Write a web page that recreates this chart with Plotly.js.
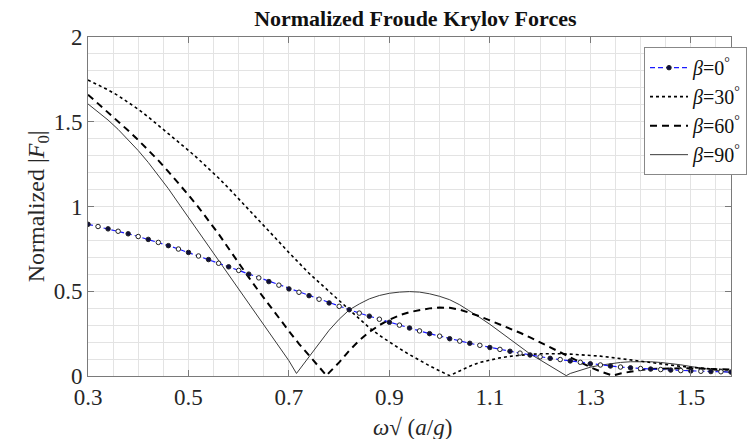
<!DOCTYPE html>
<html>
<head>
<meta charset="utf-8">
<script src="https://cdn.plot.ly/plotly-3.0.1.min.js"></script>
<style>html,body{margin:0;padding:0;background:#fff;}#chart{width:747px;height:439px;}</style>
</head>
<body>
<div id="chart"></div>
<script>
// beta = 0 deg
const x0 = [0.30,0.32,0.34,0.36,0.38,0.40,0.42,0.44,0.46,0.48,0.50,0.52,0.54,0.56,0.58,0.60,0.62,0.64,0.66,0.68,0.70,0.72,0.74,0.76,0.78,0.80,0.82,0.84,0.86,0.88,0.90,0.92,0.94,0.96,0.98,1.00,1.02,1.04,1.06,1.08,1.10,1.12,1.14,1.16,1.18,1.20,1.22,1.24,1.26,1.28,1.30,1.32,1.34,1.36,1.38,1.40,1.42,1.44,1.46,1.48,1.50,1.52,1.54,1.56,1.58];
const y0 = [0.895,0.882,0.868,0.854,0.839,0.823,0.806,0.788,0.769,0.749,0.729,0.708,0.687,0.665,0.644,0.623,0.601,0.579,0.557,0.536,0.514,0.494,0.474,0.453,0.431,0.411,0.391,0.371,0.353,0.335,0.317,0.300,0.283,0.266,0.250,0.235,0.220,0.206,0.193,0.181,0.168,0.157,0.146,0.135,0.124,0.113,0.104,0.097,0.089,0.081,0.072,0.065,0.059,0.053,0.048,0.044,0.041,0.038,0.035,0.032,0.030,0.028,0.026,0.025,0.023];

// beta = 30 deg
const x30 = [0.30,0.32,0.34,0.36,0.38,0.40,0.42,0.44,0.46,0.48,0.50,0.52,0.54,0.56,0.58,0.60,0.62,0.64,0.66,0.68,0.70,0.72,0.74,0.76,0.78,0.80,0.82,0.84,0.86,0.88,0.90,0.92,0.94,0.96,0.98,1.00,1.02,1.04,1.06,1.08,1.10,1.12,1.14,1.16,1.18,1.20,1.22,1.24,1.26,1.28,1.30,1.32,1.34,1.36,1.38,1.40,1.42,1.44,1.46,1.48,1.50,1.52,1.54,1.56,1.58];
const y30 = [1.746,1.718,1.688,1.654,1.616,1.574,1.528,1.480,1.432,1.382,1.331,1.279,1.225,1.168,1.108,1.046,0.984,0.921,0.857,0.792,0.728,0.666,0.606,0.552,0.498,0.444,0.388,0.334,0.285,0.240,0.200,0.162,0.126,0.092,0.060,0.030,0.002,0.030,0.058,0.080,0.095,0.107,0.116,0.123,0.128,0.131,0.132,0.131,0.129,0.126,0.122,0.117,0.110,0.102,0.094,0.086,0.078,0.070,0.063,0.057,0.051,0.046,0.042,0.038,0.034];

// beta = 60 deg
const x60 = [0.30,0.32,0.34,0.36,0.38,0.40,0.42,0.44,0.46,0.48,0.50,0.52,0.54,0.56,0.58,0.60,0.62,0.64,0.66,0.68,0.70,0.72,0.74,0.76,0.775,0.78,0.80,0.82,0.84,0.86,0.88,0.90,0.92,0.94,0.96,0.98,1.00,1.02,1.04,1.06,1.08,1.10,1.12,1.14,1.16,1.18,1.20,1.22,1.24,1.26,1.28,1.30,1.32,1.345,1.36,1.38,1.40,1.42,1.44,1.46,1.48,1.50,1.52,1.54,1.56,1.58];
const y60 = [1.660,1.608,1.555,1.500,1.448,1.392,1.334,1.272,1.206,1.138,1.068,0.995,0.920,0.838,0.752,0.665,0.582,0.500,0.420,0.342,0.265,0.190,0.120,0.050,0.002,0.020,0.080,0.150,0.210,0.260,0.300,0.332,0.358,0.377,0.390,0.399,0.404,0.402,0.392,0.374,0.352,0.328,0.305,0.280,0.255,0.228,0.200,0.170,0.140,0.110,0.080,0.052,0.027,0.002,0.015,0.027,0.036,0.041,0.044,0.046,0.046,0.045,0.044,0.042,0.040,0.038];

// beta = 90 deg
const x90 = [0.30,0.32,0.34,0.36,0.38,0.40,0.42,0.44,0.46,0.48,0.50,0.52,0.54,0.56,0.58,0.60,0.62,0.64,0.66,0.68,0.70,0.715,0.72,0.74,0.76,0.78,0.80,0.82,0.84,0.86,0.88,0.90,0.92,0.94,0.96,0.98,1.00,1.02,1.04,1.06,1.08,1.10,1.12,1.14,1.16,1.18,1.20,1.22,1.24,1.252,1.26,1.28,1.30,1.32,1.34,1.36,1.38,1.40,1.42,1.44,1.46,1.48,1.50,1.52,1.54,1.56,1.58];
const y90 = [1.605,1.560,1.510,1.455,1.395,1.330,1.260,1.185,1.105,1.020,0.935,0.850,0.765,0.680,0.595,0.510,0.425,0.340,0.255,0.170,0.090,0.015,0.035,0.115,0.195,0.270,0.335,0.390,0.425,0.455,0.475,0.488,0.495,0.498,0.495,0.485,0.470,0.450,0.420,0.385,0.345,0.305,0.262,0.218,0.174,0.130,0.095,0.060,0.025,0.002,0.015,0.035,0.052,0.064,0.074,0.080,0.084,0.085,0.084,0.080,0.074,0.066,0.056,0.046,0.036,0.027,0.020];

const legendNames = ['<i>β</i>=0<sup>°</sup>','<i>β</i>=30<sup>°</sup>','<i>β</i>=60<sup>°</sup>','<i>β</i>=90<sup>°</sup>'];
const chartTitle = '<b>Normalized Froude Krylov Forces</b>';
const xTitle = '<i>ω</i>√ (<i>a</i>/<i>g</i>)';
const yTitle = 'Normalized |<i>F</i><sub>0</sub>|';

const serif = 'Liberation Serif, Times New Roman, serif';
const mColors = x0.map((v,i)=> i%2===0 ? '#0d0d3d' : '#ffffff');

const traces = [
  {x:x90, y:y90, name:legendNames[3], legendrank:4, mode:'lines', line:{color:'#3a3a3a', width:1}},
  {x:x60, y:y60, name:legendNames[2], legendrank:3, mode:'lines', line:{color:'#000000', width:2, dash:'7px,5px'}},
  {x:x30, y:y30, name:legendNames[1], legendrank:2, mode:'lines', line:{color:'#000000', width:1.6, dash:'dot'}},
  {x:x0, y:y0, name:legendNames[0], legendrank:1, mode:'lines+markers',
   line:{color:'#1a1aff', width:1.2, dash:'5px,3px'},
   marker:{symbol:'circle', size:4.5, color:mColors, line:{color:'#222222', width:1}}}
];

const axisCommon = {
  showline:true, linecolor:'#7a7a7a', linewidth:1, mirror:'ticks',
  ticks:'inside', ticklen:6, tickcolor:'#7a7a7a',
  gridcolor:'#e3e3e3', gridwidth:1, zeroline:false,
  tickfont:{family:serif, size:23, color:'#262626'}
};

const layout = {
  width:747, height:439,
  margin:{l:88, r:0, t:37, b:63},
  paper_bgcolor:'#ffffff', plot_bgcolor:'#ffffff',
  title:{text:chartTitle, font:{family:serif, size:22, color:'#111'}, x:0.556, xanchor:'center', y:0.958, yanchor:'middle'},
  xaxis:Object.assign({}, axisCommon, {
    range:[0.3,1.58], tick0:0.3, dtick:0.2, tickformat:'.1f',
    minor:{dtick:0.05, tick0:0.3, showgrid:true, gridcolor:'#e3e3e3', ticks:''}
  }),
  yaxis:Object.assign({}, axisCommon, {
    range:[0,2], tick0:0, dtick:0.5,
    minor:{dtick:0.1, showgrid:true, gridcolor:'#e3e3e3', ticks:''}
  }),
  annotations:[
    {text:xTitle, xref:'paper', yref:'paper', x:0.505, y:-0.153, xanchor:'center', yanchor:'middle', showarrow:false,
     font:{family:serif, size:23, color:'#262626'}},
    {text:yTitle, xref:'paper', yref:'paper', x:-0.078, y:0.5, xanchor:'center', yanchor:'middle', textangle:-90, showarrow:false,
     font:{family:serif, size:24, color:'#262626'}}
  ],
  showlegend:true,
  legend:{x:0.865, xanchor:'left', y:0.97, yanchor:'top', bgcolor:'#ffffff', bordercolor:'#888888', borderwidth:1,
          font:{family:serif, size:20, color:'#111'}, itemwidth:38, tracegroupgap:0}
};

Plotly.newPlot('chart', traces, layout, {displayModeBar:false, staticPlot:true});
</script>
</body>
</html>
